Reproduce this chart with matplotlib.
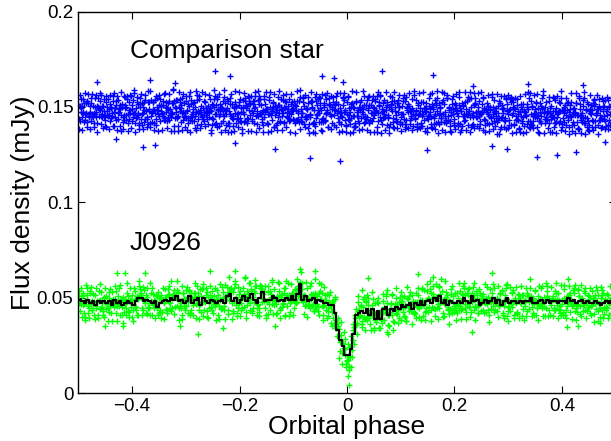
import numpy as np
import matplotlib
matplotlib.use("Agg")
import matplotlib.pyplot as plt

plt.rcParams['font.family'] = ['Liberation Sans', 'DejaVu Sans']

# J0926 binned light curve, 0.005 wide phase bins from -0.5 to 0.5
bin_width = 0.005
j0926_binned = [
    0.049, 0.048, 0.047, 0.049, 0.047, 0.048, 0.046, 0.048, 0.047, 0.048,
    0.047, 0.048, 0.046, 0.049, 0.047, 0.048, 0.046, 0.047, 0.048, 0.047,
    0.046, 0.048, 0.050, 0.050, 0.048, 0.049, 0.048, 0.047, 0.048, 0.045,
    0.047, 0.048, 0.049, 0.048, 0.050, 0.049, 0.051, 0.048, 0.049, 0.047,
    0.048, 0.051, 0.047, 0.049, 0.050, 0.046, 0.050, 0.048, 0.047, 0.049,
    0.048, 0.047, 0.048, 0.049, 0.047, 0.051, 0.052, 0.048, 0.050, 0.047,
    0.049, 0.051, 0.048, 0.050, 0.052, 0.049, 0.047, 0.050, 0.053, 0.048,
    0.049, 0.049, 0.051, 0.050, 0.048, 0.049, 0.048, 0.050, 0.049, 0.051,
    0.049, 0.052, 0.057, 0.049, 0.051, 0.048, 0.049, 0.050, 0.047, 0.049,
    0.048, 0.047, 0.047, 0.046, 0.046, 0.042, 0.033, 0.028, 0.0245, 0.020,
    0.020, 0.023, 0.031, 0.041, 0.042, 0.043, 0.042, 0.044, 0.041, 0.044,
    0.039, 0.043, 0.039, 0.044, 0.045, 0.041, 0.044, 0.043, 0.045, 0.044,
    0.046, 0.045, 0.046, 0.047, 0.044, 0.047, 0.046, 0.048, 0.046, 0.048,
    0.049, 0.047, 0.050, 0.048, 0.051, 0.047, 0.049, 0.046, 0.048, 0.047,
    0.047, 0.048, 0.047, 0.050, 0.048, 0.047, 0.051, 0.048, 0.049, 0.046,
    0.047, 0.049, 0.047, 0.048, 0.050, 0.047, 0.049, 0.046, 0.048, 0.050,
    0.047, 0.048, 0.048, 0.047, 0.048, 0.047, 0.048, 0.048, 0.050, 0.047,
    0.047, 0.048, 0.049, 0.047, 0.049, 0.047, 0.048, 0.048, 0.047, 0.048,
    0.048, 0.047, 0.050, 0.048, 0.049, 0.047, 0.048, 0.049, 0.047, 0.048,
    0.047, 0.047, 0.048, 0.047, 0.046, 0.047, 0.048, 0.047, 0.048, 0.047,
]

# comparison star mean level, in 0.05 phase steps
comp_level = [0.1478, 0.1480, 0.1476, 0.1479, 0.1478, 0.1475, 0.1478, 0.1476, 0.1474, 0.1477,
              0.1472, 0.1474, 0.1470, 0.1468, 0.1471, 0.1469, 0.1466, 0.1468, 0.1465, 0.1466]

# scatter of single exposures about the local level, one digit per exposure
# (the following digit fills in between the coarse levels)
digit_sigma = [-2.4, -1.6, -1.05, -0.6, -0.2, 0.2, 0.6, 1.05, 1.6, 2.4]
fine_step = 0.42
comp_unit = 0.0040
j0926_unit = 0.0036

comp_scatter = (
    "730591846270385169423750816934270518693427150864392701586349"
    "482913370652841190763528404917256338810945627719038245566102"
    "957320418866235790142475389061728439950163287744120586931375"
    "064817925533098147620983451776204839125586037291846650372819"
    "319458062274819355027436998102645783310295847662038519274408"
    "826047315901968342275518064039791253884607143296251780935624"
    "471392856004731268599143720885612937470156382299047613858201"
    "153869402741257039816643250977318462005839421786631590248773"
    "690224738157896401352979068443725160128847395562014387965036"
    "247581093665120487339721856404839216578093346271850193747625"
    "583016724982453179906234518877140926356290801433779658202149"
    "012794368551887620493031675922438495108674372906158813567480"
    "894473201639514028867952460113789264301527598036641120978352"
    "361705582847063991734226840558917302468519270364785491023967"
    "728930146275338405596813427009156748832107965423180847659214"
    "405168839320791256648097315542870613994328561207743965082136"
    "139826470558103427389654120976634208517749902381665234079851"
    "976042318894265713050487639321580749462136897020548136742398"
    "250637914486029871143520968775341296608415239754890627031564"
    "817394205663418950724861337019526840081293574659312408875609"
    "463158792038847216590432875261104937722580361496043817259913"
    "098521674309536447812965030248173658994602718335526091847042"
    "735049128861702393546178249906213572480639157842601375984206"
    "524716039782451108937650324874199023658413076205947512630788"
    "681253947015873264409128567433086145920867315249077381562049"
)

j0926_scatter = (
    "358142906773521049865310287946223751084396510479632854117063"
    "927460315828619057342488160375290946173802565134981720649358"
    "140596832271039485766203918544710862325097614938260473585192"
    "672308154903845621187469320951567082443916780253419006837264"
    "285914670036257138495740286613094825779013546882107349652481"
    "513729046588103496221875430697348102955667038214789530162947"
    "804162375149720583643912857004237689961345020878516324479310"
    "439075281662894017350526149983016572438810794623957041286356"
    "061843592375416208794637015228906354189472563109842775130694"
    "796281043957630824158490362571148930627586014397025638947213"
    "328507619024583169472019856343671205894032769158441706295830"
    "145936278803217465093761428859520147366893201574982630517486"
    "907643185521069738242851907634216083579514360288715493026179"
    "612479830367852014596303781249586117042975683350124869317542"
    "283051764198430627857916420376893541052638197402765310948627"
    "574826093612957301486245719083265471903326855892140546879021"
    "036195427785104639221578046393812760534908167245983602171458"
    "861347502936285190473612958804726139456072318497650832614095"
    "420958613074329857156034278691405238867129504613387926051732"
    "759214386601573924880245136979308415622753081496143570298364"
)

# exposures lying well off the bands
comp_out_phase = [-0.465, -0.430, -0.380, -0.367, -0.357, -0.320, -0.246, -0.218, -0.208, -0.134,
                  -0.069, -0.047, -0.024, -0.013, -0.007, 0.066, 0.148, 0.160, 0.234, 0.269,
                  0.297, 0.337, 0.353, 0.390, 0.427, 0.440, 0.480]
comp_out_flux = [0.163, 0.133, 0.129, 0.164, 0.130, 0.1625, 0.169, 0.166, 0.131, 0.128,
                 0.123, 0.166, 0.165, 0.1216, 0.163, 0.169, 0.1274, 0.1667, 0.161, 0.1295,
                 0.128, 0.1618, 0.1236, 0.125, 0.1265, 0.1615, 0.1317]

j0926_out_phase = [-0.450, -0.428, -0.417, -0.413, -0.376, -0.311, -0.277, -0.255, -0.230, -0.208,
                   -0.190, -0.134, -0.087, -0.060, -0.028, 0.001, 0.003, 0.004, 0.028, 0.039,
                   0.074, 0.132, 0.160, 0.232, 0.270, 0.409, 0.430, 0.470]
j0926_out_flux = [0.035, 0.063, 0.035, 0.0627, 0.063, 0.035, 0.031, 0.0637, 0.034, 0.0637,
                  0.061, 0.035, 0.0648, 0.0637, 0.035, 0.009, 0.004, 0.014, 0.0538, 0.0605,
                  0.032, 0.0625, 0.061, 0.032, 0.063, 0.0345, 0.035, 0.0365]


def scatter_offsets(codes, unit):
    d = np.array([int(c) for c in codes])
    coarse = np.array(digit_sigma)[d]
    fine = fine_step * (np.roll(d, -1) - 4.5) / 4.5
    return (coarse + fine) * unit


# comparison star exposures
n_comp = len(comp_scatter)
comp_phase = -0.5 + (np.arange(n_comp) + 0.5) / n_comp
comp_idx = np.minimum(((comp_phase + 0.5) / 0.05).astype(int), len(comp_level) - 1)
comp_flux = np.array(comp_level)[comp_idx] + scatter_offsets(comp_scatter, comp_unit)

# J0926 exposures
n_j = len(j0926_scatter)
j_phase = -0.5 + (np.arange(n_j) + 0.5) / n_j
j_idx = np.minimum(((j_phase + 0.5) / bin_width).astype(int), len(j0926_binned) - 1)
j_flux = np.array(j0926_binned)[j_idx] + scatter_offsets(j0926_scatter, j0926_unit)

bin_edges = -0.5 + bin_width * np.arange(len(j0926_binned) + 1)
bin_steps = list(j0926_binned) + [j0926_binned[-1]]

fig = plt.figure(figsize=(6.11, 4.41), dpi=100)
ax = fig.add_axes([78.3 / 611, 1 - 393 / 441, (615.7 - 78.3) / 611, (393 - 11.5) / 441])

pt = dict(marker='+', linestyle='none', markersize=4.8, markeredgewidth=1.0)
ax.plot(comp_phase, comp_flux, color='#0000ff', **pt)
ax.plot(comp_out_phase, comp_out_flux, color='#0000ff', **pt)
ax.plot(j_phase, j_flux, color='#00ff00', **pt)
ax.plot(j0926_out_phase, j0926_out_flux, color='#00ff00', **pt)
ax.step(bin_edges, bin_steps, where='post', color='black', linewidth=1.6)

ax.set_xlim(-0.5, 0.5)
ax.set_ylim(0, 0.2)
ax.set_xticks([-0.4, -0.2, 0, 0.2, 0.4])
ax.set_xticklabels(['\u22120.4', '\u22120.2', '0', '0.2', '0.4'])
ax.set_yticks([0, 0.05, 0.1, 0.15, 0.2])
ax.set_yticklabels(['0', '0.05', '0.1', '0.15', '0.2'])
ax.tick_params(direction='in', top=True, right=True, length=5, width=0.8, labelsize=13.5)
for s in ax.spines.values():
    s.set_linewidth(1.0)

ax.set_xlabel('Orbital phase', fontsize=19, labelpad=0)
ax.set_ylabel('Flux density (mJy)', fontsize=19, labelpad=1)

ax.text(-0.404, 0.1795, 'Comparison star', fontsize=19, va='center', ha='left')
ax.text(-0.404, 0.0785, 'J0926', fontsize=19, va='center', ha='left')

fig.savefig('out.png', dpi=100)
